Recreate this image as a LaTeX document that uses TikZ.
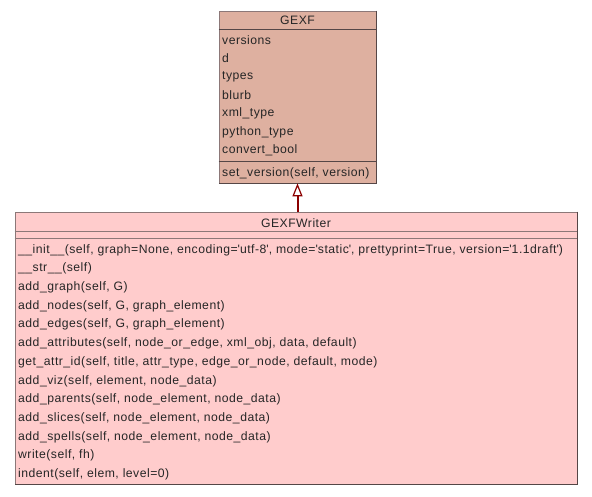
\documentclass[tikz,border=0pt]{standalone}
\usepackage{fontspec}
\usepackage{tikz}
\usetikzlibrary{arrows.meta}
\setmainfont{Liberation Sans}[LetterSpace=4]
\definecolor{gexfcol}{RGB}{222,176,160}
\definecolor{writercol}{RGB}{255,204,204}
\definecolor{edgecol}{RGB}{140,120,120}
\definecolor{shadowcol}{RGB}{85,70,70}
\definecolor{inheritcol}{RGB}{139,0,0}

\begin{document}
\begin{tikzpicture}[x=1pt,y=-1pt,
    classbox/.style={draw=edgecol, line width=0.8pt, inner sep=0pt},
    member/.style={anchor=west, inner sep=0pt, text=black!85, font=\fontsize{12.2}{14}\selectfont},
    title/.style={inner sep=0pt, text=black!85, font=\fontsize{12.2}{14}\selectfont}]
    \useasboundingbox (0,0) rectangle (592,496);
    % GEXF
    \node[classbox, fill=gexfcol, minimum width=157, minimum height=172] (gexf) at (297.5,97) {};
    \node[title] (gexf-name) at (297.5,20) {GEXF};
    \draw[shadowcol] (gexf.west |- 0,29) -- (gexf.east |- 0,29);
    \draw[shadowcol] (gexf.west |- 0,161) -- (gexf.east |- 0,161);
    \foreach \t [count=\i] in {versions, d, types, blurb, xml\_type, python\_type, convert\_bool}
      \node[member] (gexf-a\i) at (222,{40+18.4*(\i-1)}) {\t};
    \node[member] (gexf-m1) at (222,173) {set\_version(self, version)};
    \draw[shadowcol, line width=1.4pt] (gexf.north east) -- (gexf.south east) -- (gexf.south west);
    % GEXFWriter
    \node[classbox, fill=writercol, minimum width=562, minimum height=272] (writer) at (296,348) {};
    \node[title] (writer-name) at (296,223) {GEXFWriter};
    \draw[edgecol] (writer.west |- 0,231) -- (writer.east |- 0,231);
    \draw[edgecol] (writer.west |- 0,238) -- (writer.east |- 0,238);
    \foreach \t [count=\i] in {
      {\_\_init\_\_(self, graph=None, encoding=\textquotesingle utf-8\textquotesingle, mode=\textquotesingle static\textquotesingle, prettyprint=True, version=\textquotesingle 1.1draft\textquotesingle)},
      {\_\_str\_\_(self)},
      {add\_graph(self, G)},
      {add\_nodes(self, G, graph\_element)},
      {add\_edges(self, G, graph\_element)},
      {add\_attributes(self, node\_or\_edge, xml\_obj, data, default)},
      {get\_attr\_id(self, title, attr\_type, edge\_or\_node, default, mode)},
      {add\_viz(self, element, node\_data)},
      {add\_parents(self, node\_element, node\_data)},
      {add\_slices(self, node\_element, node\_data)},
      {add\_spells(self, node\_element, node\_data)},
      {write(self, fh)},
      {indent(self, elem, level=0)}}
      \node[member] (writer-m\i) at (18,{250+18.7*(\i-1)}) {\t};
    \draw[shadowcol, line width=1.4pt] (writer.north east) -- (writer.south east) -- (writer.south west);
    % inheritance
    \draw[inheritcol, line width=2pt, -{Triangle[open, width=10pt, length=13pt, line width=1.2pt]}]
      (gexf.south |- writer.north) -- (gexf.south);
\end{tikzpicture}
\end{document}
